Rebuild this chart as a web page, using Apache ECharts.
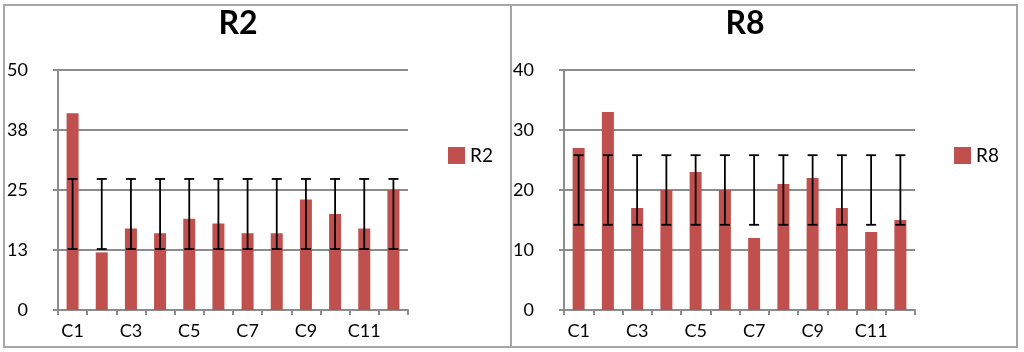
<html>
    <head>
        <meta charset='utf-8'>
        <title>R2 R8</title>
        <style>
            body { margin: 0; background: #fff; }
            #chart_area { width: 1024px; height: 352px; }
        </style>
        <script type="text/javascript" src="https://cdn.jsdelivr.net/npm/echarts@6/dist/echarts.min.js"></script>
    </head>
    <body>
        <div id="chart_area"></div>
    </body>
    <script type="text/javascript">
        var categories = ['C1', 'C2', 'C3', 'C4', 'C5', 'C6', 'C7', 'C8', 'C9', 'C10', 'C11', 'C12'];
        var r2_values = [41, 12, 17, 16, 19, 18, 16, 16, 23, 20, 17, 25];
        var r2_err_low = [12.7, 12.7, 12.7, 12.7, 12.7, 12.7, 12.7, 12.7, 12.7, 12.7, 12.7, 12.7];
        var r2_err_high = [27.3, 27.3, 27.3, 27.3, 27.3, 27.3, 27.3, 27.3, 27.3, 27.3, 27.3, 27.3];
        var r8_values = [27, 33, 17, 20, 23, 20, 12, 21, 22, 17, 13, 15];
        var r8_err_low = [14.2, 14.2, 14.2, 14.2, 14.2, 14.2, 14.2, 14.2, 14.2, 14.2, 14.2, 14.2];
        var r8_err_high = [25.8, 25.8, 25.8, 25.8, 25.8, 25.8, 25.8, 25.8, 25.8, 25.8, 25.8, 25.8];

        var font_name = 'Lato, "Open Sans", sans-serif';
        var grid_color = '#8c8c8c';
        var bar_color = '#c0504d';

        function errData(low, high) {
            var out = [];
            low.forEach(function(v, i) { out.push([i, v, high[i]]); });
            return out;
        }

        function renderErr(params, api) {
            var lo = api.coord([api.value(0), api.value(1)]);
            var hi = api.coord([api.value(0), api.value(2)]);
            var half = 5;
            var st = { stroke: '#000', lineWidth: 1.8 };
            return { type: 'group', children: [
                { type: 'line', shape: { x1: lo[0], y1: lo[1], x2: hi[0], y2: hi[1] }, style: st },
                { type: 'line', shape: { x1: lo[0] - half, y1: lo[1], x2: lo[0] + half, y2: lo[1] }, style: st },
                { type: 'line', shape: { x1: hi[0] - half, y1: hi[1], x2: hi[0] + half, y2: hi[1] }, style: st }
            ]};
        }

        function xAxisOf(idx) {
            return {
                type: 'category', gridIndex: idx, data: categories,
                axisLine: { lineStyle: { color: grid_color, width: 2 } },
                axisTick: { show: true, length: 5, interval: 0, lineStyle: { color: grid_color, width: 2 } },
                axisLabel: { interval: 1, color: '#000', fontFamily: font_name, fontSize: 18, margin: 12 }
            };
        }

        function yAxisOf(idx, max, interval) {
            return {
                type: 'value', gridIndex: idx, min: 0, max: max, interval: interval,
                axisLine: { show: true, lineStyle: { color: grid_color, width: 2 } },
                axisTick: { show: true, length: 5, lineStyle: { color: grid_color, width: 2 } },
                splitLine: { lineStyle: { color: grid_color, width: 2 } },
                axisLabel: { color: '#000', fontFamily: font_name, fontSize: 18, margin: 30,
                    formatter: function(v) { return Math.round(v); } }
            };
        }

        var chart = echarts.init(document.getElementById('chart_area'));
        var option = {
            animation: false,
            graphic: [
                { type: 'rect', shape: { x: 4, y: 5, width: 507, height: 342 },
                  style: { fill: 'none', stroke: '#a6a6a6', lineWidth: 2 } },
                { type: 'rect', shape: { x: 511, y: 5, width: 506, height: 342 },
                  style: { fill: 'none', stroke: '#a6a6a6', lineWidth: 2 } }
            ],
            title: [
                { text: 'R2', left: 233, top: 3, textAlign: 'center',
                  textStyle: { fontFamily: font_name, fontSize: 32, fontWeight: 'bold', color: '#000' } },
                { text: 'R8', left: 740, top: 3, textAlign: 'center',
                  textStyle: { fontFamily: font_name, fontSize: 32, fontWeight: 'bold', color: '#000' } }
            ],
            legend: [
                { data: ['R2'], left: 443, top: 141, itemWidth: 17, itemHeight: 17, icon: 'rect',
                  textStyle: { fontFamily: font_name, fontSize: 19, color: '#000' } },
                { data: ['R8'], left: 949, top: 141, itemWidth: 17, itemHeight: 17, icon: 'rect',
                  textStyle: { fontFamily: font_name, fontSize: 19, color: '#000' } }
            ],
            grid: [
                { left: 58, top: 70, width: 350, height: 240 },
                { left: 564, top: 70, width: 351, height: 240 }
            ],
            xAxis: [xAxisOf(0), xAxisOf(1)],
            yAxis: [yAxisOf(0, 50, 12.5), yAxisOf(1, 40, 10)],
            series: [
                { name: 'R2', type: 'bar', xAxisIndex: 0, yAxisIndex: 0, data: r2_values,
                  barWidth: 12, itemStyle: { color: bar_color } },
                { name: 'R2 err', type: 'custom', xAxisIndex: 0, yAxisIndex: 0,
                  data: errData(r2_err_low, r2_err_high), renderItem: renderErr, z: 5 },
                { name: 'R8', type: 'bar', xAxisIndex: 1, yAxisIndex: 1, data: r8_values,
                  barWidth: 12, itemStyle: { color: bar_color } },
                { name: 'R8 err', type: 'custom', xAxisIndex: 1, yAxisIndex: 1,
                  data: errData(r8_err_low, r8_err_high), renderItem: renderErr, z: 5 }
            ]
        };
        chart.setOption(option);
    </script>
</html>
